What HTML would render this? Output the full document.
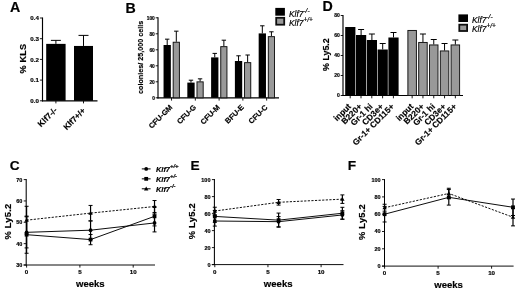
<!DOCTYPE html>
<html><head><meta charset="utf-8"><title>Figure</title>
<style>
html,body{margin:0;padding:0;background:#fff;}
body{width:520px;height:290px;overflow:hidden;font-family:"Liberation Sans",sans-serif;}
svg{display:block;}
svg text{font-family:"Liberation Sans",sans-serif;fill:#000;stroke:#000;stroke-width:0.18px;}
</style></head><body>
<svg width="520" height="290" viewBox="0 0 520 290">
<rect x="0" y="0" width="520" height="290" fill="#fff"/>
<defs><filter id="b" x="-5%" y="-5%" width="110%" height="110%"><feGaussianBlur stdDeviation="0.28"/></filter></defs><g filter="url(#b)">
<text x="9.90" y="12.40" font-size="14.2" font-weight="bold" font-style="normal" text-anchor="start" >A</text>
<text x="125.60" y="12.60" font-size="14.2" font-weight="bold" font-style="normal" text-anchor="start" >B</text>
<text x="322.50" y="11.20" font-size="14.2" font-weight="bold" font-style="normal" text-anchor="start" >D</text>
<text x="9.70" y="170.30" font-size="13.7" font-weight="bold" font-style="normal" text-anchor="start" >C</text>
<text x="190.60" y="170.30" font-size="13.7" font-weight="bold" font-style="normal" text-anchor="start" >E</text>
<text x="347.70" y="170.20" font-size="13.7" font-weight="bold" font-style="normal" text-anchor="start" >F</text>
<line x1="42.50" y1="17.50" x2="42.50" y2="101.40" stroke="#000" stroke-width="1.15" />
<line x1="41.90" y1="100.80" x2="97.50" y2="100.80" stroke="#000" stroke-width="1.15" />
<line x1="39.90" y1="100.80" x2="42.50" y2="100.80" stroke="#000" stroke-width="0.9" />
<text x="38.90" y="103.00" font-size="6.2" font-weight="bold" font-style="normal" text-anchor="end" >0.0</text>
<line x1="39.90" y1="80.10" x2="42.50" y2="80.10" stroke="#000" stroke-width="0.9" />
<text x="38.90" y="82.30" font-size="6.2" font-weight="bold" font-style="normal" text-anchor="end" >0.1</text>
<line x1="39.90" y1="59.40" x2="42.50" y2="59.40" stroke="#000" stroke-width="0.9" />
<text x="38.90" y="61.60" font-size="6.2" font-weight="bold" font-style="normal" text-anchor="end" >0.2</text>
<line x1="39.90" y1="38.70" x2="42.50" y2="38.70" stroke="#000" stroke-width="0.9" />
<text x="38.90" y="40.90" font-size="6.2" font-weight="bold" font-style="normal" text-anchor="end" >0.3</text>
<line x1="39.90" y1="18.00" x2="42.50" y2="18.00" stroke="#000" stroke-width="0.9" />
<text x="38.90" y="20.20" font-size="6.2" font-weight="bold" font-style="normal" text-anchor="end" >0.4</text>
<rect x="46.20" y="43.88" width="19.40" height="56.92" fill="#000"/>
<line x1="55.90" y1="40.36" x2="55.90" y2="43.88" stroke="#000" stroke-width="1" />
<line x1="50.90" y1="40.36" x2="60.90" y2="40.36" stroke="#000" stroke-width="1" />
<rect x="74.00" y="45.95" width="19.00" height="54.85" fill="#000"/>
<line x1="83.50" y1="35.39" x2="83.50" y2="45.95" stroke="#000" stroke-width="1" />
<line x1="78.50" y1="35.39" x2="88.50" y2="35.39" stroke="#000" stroke-width="1" />
<text x="25.70" y="58.50" font-size="9.1" font-weight="bold" font-style="normal" text-anchor="middle" transform="rotate(-90 25.70 58.50)" letter-spacing="0.2">% KLS</text>
<text x="57.70" y="110.80" font-size="8.3" font-weight="bold" font-style="normal" text-anchor="end" transform="rotate(-45 57.70 110.80)" >Klf7-/-</text>
<text x="86.00" y="111.20" font-size="8.2" font-weight="bold" font-style="normal" text-anchor="end" transform="rotate(-45 86.00 111.20)" >Klf7+/+</text>
<line x1="55.90" y1="100.80" x2="55.90" y2="103.40" stroke="#000" stroke-width="0.9" />
<line x1="83.50" y1="100.80" x2="83.50" y2="103.40" stroke="#000" stroke-width="0.9" />
<line x1="158.00" y1="17.30" x2="158.00" y2="98.40" stroke="#000" stroke-width="1.15" />
<line x1="157.40" y1="97.80" x2="279.00" y2="97.80" stroke="#000" stroke-width="1.15" />
<line x1="155.70" y1="97.80" x2="158.00" y2="97.80" stroke="#000" stroke-width="0.9" />
<text x="154.80" y="99.50" font-size="4.8" font-weight="bold" font-style="normal" text-anchor="end" stroke-width="0.3">0</text>
<line x1="155.70" y1="81.80" x2="158.00" y2="81.80" stroke="#000" stroke-width="0.9" />
<text x="154.80" y="83.50" font-size="4.8" font-weight="bold" font-style="normal" text-anchor="end" stroke-width="0.3">20</text>
<line x1="155.70" y1="65.80" x2="158.00" y2="65.80" stroke="#000" stroke-width="0.9" />
<text x="154.80" y="67.50" font-size="4.8" font-weight="bold" font-style="normal" text-anchor="end" stroke-width="0.3">40</text>
<line x1="155.70" y1="49.80" x2="158.00" y2="49.80" stroke="#000" stroke-width="0.9" />
<text x="154.80" y="51.50" font-size="4.8" font-weight="bold" font-style="normal" text-anchor="end" stroke-width="0.3">60</text>
<line x1="155.70" y1="33.80" x2="158.00" y2="33.80" stroke="#000" stroke-width="0.9" />
<text x="154.80" y="35.50" font-size="4.8" font-weight="bold" font-style="normal" text-anchor="end" stroke-width="0.3">80</text>
<line x1="155.70" y1="17.80" x2="158.00" y2="17.80" stroke="#000" stroke-width="0.9" />
<text x="154.80" y="19.50" font-size="4.8" font-weight="bold" font-style="normal" text-anchor="end" stroke-width="0.3">100</text>
<rect x="163.55" y="45.00" width="7.30" height="52.80" fill="#000"/>
<line x1="167.20" y1="39.16" x2="167.20" y2="45.00" stroke="#000" stroke-width="1" />
<line x1="165.00" y1="39.16" x2="169.40" y2="39.16" stroke="#000" stroke-width="1" />
<rect x="173.20" y="42.25" width="6.20" height="55.55" fill="#999" stroke="#111" stroke-width="0.95"/>
<line x1="176.30" y1="31.16" x2="176.30" y2="41.80" stroke="#000" stroke-width="1" />
<line x1="174.10" y1="31.16" x2="178.50" y2="31.16" stroke="#000" stroke-width="1" />
<line x1="171.55" y1="97.80" x2="171.55" y2="100.60" stroke="#000" stroke-width="0.9" />
<text x="172.95" y="107.80" font-size="7.5" font-weight="bold" font-style="normal" text-anchor="end" transform="rotate(-45 172.95 107.80)" >CFU-GM</text>
<rect x="187.33" y="82.60" width="7.30" height="15.20" fill="#000"/>
<line x1="190.98" y1="80.20" x2="190.98" y2="82.60" stroke="#000" stroke-width="1" />
<line x1="188.78" y1="80.20" x2="193.18" y2="80.20" stroke="#000" stroke-width="1" />
<rect x="196.98" y="81.85" width="6.20" height="15.95" fill="#999" stroke="#111" stroke-width="0.95"/>
<line x1="200.08" y1="78.84" x2="200.08" y2="81.40" stroke="#000" stroke-width="1" />
<line x1="197.88" y1="78.84" x2="202.28" y2="78.84" stroke="#000" stroke-width="1" />
<line x1="195.33" y1="97.80" x2="195.33" y2="100.60" stroke="#000" stroke-width="0.9" />
<text x="196.73" y="107.80" font-size="7.5" font-weight="bold" font-style="normal" text-anchor="end" transform="rotate(-45 196.73 107.80)" >CFU-G</text>
<rect x="211.11" y="57.40" width="7.30" height="40.40" fill="#000"/>
<line x1="214.76" y1="53.40" x2="214.76" y2="57.40" stroke="#000" stroke-width="1" />
<line x1="212.56" y1="53.40" x2="216.96" y2="53.40" stroke="#000" stroke-width="1" />
<rect x="220.76" y="46.65" width="6.20" height="51.15" fill="#999" stroke="#111" stroke-width="0.95"/>
<line x1="223.86" y1="40.20" x2="223.86" y2="46.20" stroke="#000" stroke-width="1" />
<line x1="221.66" y1="40.20" x2="226.06" y2="40.20" stroke="#000" stroke-width="1" />
<line x1="219.11" y1="97.80" x2="219.11" y2="100.60" stroke="#000" stroke-width="0.9" />
<text x="220.51" y="107.80" font-size="7.5" font-weight="bold" font-style="normal" text-anchor="end" transform="rotate(-45 220.51 107.80)" >CFU-M</text>
<rect x="234.89" y="61.00" width="7.30" height="36.80" fill="#000"/>
<line x1="238.54" y1="55.80" x2="238.54" y2="61.00" stroke="#000" stroke-width="1" />
<line x1="236.34" y1="55.80" x2="240.74" y2="55.80" stroke="#000" stroke-width="1" />
<rect x="244.54" y="62.65" width="6.20" height="35.15" fill="#999" stroke="#111" stroke-width="0.95"/>
<line x1="247.64" y1="55.00" x2="247.64" y2="62.20" stroke="#000" stroke-width="1" />
<line x1="245.44" y1="55.00" x2="249.84" y2="55.00" stroke="#000" stroke-width="1" />
<line x1="242.89" y1="97.80" x2="242.89" y2="100.60" stroke="#000" stroke-width="0.9" />
<text x="244.29" y="107.80" font-size="7.5" font-weight="bold" font-style="normal" text-anchor="end" transform="rotate(-45 244.29 107.80)" >BFU-E</text>
<rect x="258.67" y="33.40" width="7.30" height="64.40" fill="#000"/>
<line x1="262.32" y1="25.80" x2="262.32" y2="33.40" stroke="#000" stroke-width="1" />
<line x1="260.12" y1="25.80" x2="264.52" y2="25.80" stroke="#000" stroke-width="1" />
<rect x="268.32" y="36.65" width="6.20" height="61.15" fill="#999" stroke="#111" stroke-width="0.95"/>
<line x1="271.42" y1="31.80" x2="271.42" y2="36.20" stroke="#000" stroke-width="1" />
<line x1="269.22" y1="31.80" x2="273.62" y2="31.80" stroke="#000" stroke-width="1" />
<line x1="266.67" y1="97.80" x2="266.67" y2="100.60" stroke="#000" stroke-width="0.9" />
<text x="268.07" y="107.80" font-size="7.5" font-weight="bold" font-style="normal" text-anchor="end" transform="rotate(-45 268.07 107.80)" >CFU-C</text>
<text x="143.40" y="57.40" font-size="7.2" font-weight="bold" font-style="normal" text-anchor="middle" transform="rotate(-90 143.40 57.40)" >colonies/ 25,000 cells</text>
<rect x="275.30" y="7.90" width="9.60" height="7.80" fill="#000"/>
<rect x="276.20" y="17.80" width="8.00" height="6.90" fill="#999" stroke="#111" stroke-width="1.8"/>
<text x="289.00" y="16.60" font-size="8.4" font-style="italic" font-weight="normal" letter-spacing="0">Klf7<tspan font-size="6.55" dy="-3.95">-/-</tspan></text>
<text x="289.00" y="26.00" font-size="8.4" font-style="italic" font-weight="normal" letter-spacing="0">Klf7<tspan font-size="6.55" dy="-3.95">+/+</tspan></text>
<line x1="343.00" y1="15.00" x2="343.00" y2="96.10" stroke="#000" stroke-width="1.15" />
<line x1="342.40" y1="95.50" x2="463.00" y2="95.50" stroke="#000" stroke-width="1.15" />
<line x1="340.70" y1="95.50" x2="343.00" y2="95.50" stroke="#000" stroke-width="0.9" />
<text x="339.80" y="97.30" font-size="5.0" font-weight="bold" font-style="normal" text-anchor="end" stroke-width="0.3">0</text>
<line x1="340.70" y1="75.50" x2="343.00" y2="75.50" stroke="#000" stroke-width="0.9" />
<text x="339.80" y="77.30" font-size="5.0" font-weight="bold" font-style="normal" text-anchor="end" stroke-width="0.3">20</text>
<line x1="340.70" y1="55.50" x2="343.00" y2="55.50" stroke="#000" stroke-width="0.9" />
<text x="339.80" y="57.30" font-size="5.0" font-weight="bold" font-style="normal" text-anchor="end" stroke-width="0.3">40</text>
<line x1="340.70" y1="35.50" x2="343.00" y2="35.50" stroke="#000" stroke-width="0.9" />
<text x="339.80" y="37.30" font-size="5.0" font-weight="bold" font-style="normal" text-anchor="end" stroke-width="0.3">60</text>
<line x1="340.70" y1="15.50" x2="343.00" y2="15.50" stroke="#000" stroke-width="0.9" />
<text x="339.80" y="17.30" font-size="5.0" font-weight="bold" font-style="normal" text-anchor="end" stroke-width="0.3">80</text>
<rect x="345.20" y="27.00" width="10.20" height="68.50" fill="#000"/>
<line x1="350.20" y1="95.50" x2="350.20" y2="98.30" stroke="#000" stroke-width="0.9" />
<text x="351.60" y="107.10" font-size="8.4" font-weight="bold" font-style="normal" text-anchor="end" transform="rotate(-45 351.60 107.10)" >input</text>
<rect x="356.00" y="35.00" width="10.20" height="60.50" fill="#000"/>
<line x1="361.10" y1="29.50" x2="361.10" y2="35.00" stroke="#000" stroke-width="1" />
<line x1="358.10" y1="29.50" x2="364.10" y2="29.50" stroke="#000" stroke-width="1" />
<line x1="361.00" y1="95.50" x2="361.00" y2="98.30" stroke="#000" stroke-width="0.9" />
<text x="362.40" y="107.10" font-size="8.4" font-weight="bold" font-style="normal" text-anchor="end" transform="rotate(-45 362.40 107.10)" >B220+</text>
<rect x="366.80" y="40.00" width="10.20" height="55.50" fill="#000"/>
<line x1="371.90" y1="34.00" x2="371.90" y2="40.00" stroke="#000" stroke-width="1" />
<line x1="368.90" y1="34.00" x2="374.90" y2="34.00" stroke="#000" stroke-width="1" />
<line x1="371.80" y1="95.50" x2="371.80" y2="98.30" stroke="#000" stroke-width="0.9" />
<text x="373.20" y="107.10" font-size="8.4" font-weight="bold" font-style="normal" text-anchor="end" transform="rotate(-45 373.20 107.10)" >Gr-1 hi</text>
<rect x="377.60" y="49.50" width="10.20" height="46.00" fill="#000"/>
<line x1="382.70" y1="43.50" x2="382.70" y2="49.50" stroke="#000" stroke-width="1" />
<line x1="379.70" y1="43.50" x2="385.70" y2="43.50" stroke="#000" stroke-width="1" />
<line x1="382.60" y1="95.50" x2="382.60" y2="98.30" stroke="#000" stroke-width="0.9" />
<text x="384.00" y="107.10" font-size="8.4" font-weight="bold" font-style="normal" text-anchor="end" transform="rotate(-45 384.00 107.10)" >CD3e+</text>
<rect x="388.40" y="37.50" width="10.20" height="58.00" fill="#000"/>
<line x1="393.50" y1="32.50" x2="393.50" y2="37.50" stroke="#000" stroke-width="1" />
<line x1="390.50" y1="32.50" x2="396.50" y2="32.50" stroke="#000" stroke-width="1" />
<line x1="393.40" y1="95.50" x2="393.40" y2="98.30" stroke="#000" stroke-width="0.9" />
<text x="394.80" y="107.10" font-size="8.4" font-weight="bold" font-style="normal" text-anchor="end" transform="rotate(-45 394.80 107.10)" >Gr-1+ CD115+</text>
<rect x="407.90" y="30.45" width="8.50" height="65.05" fill="#999" stroke="#111" stroke-width="0.95"/>
<line x1="412.15" y1="95.50" x2="412.15" y2="98.30" stroke="#000" stroke-width="0.9" />
<text x="413.95" y="107.10" font-size="8.4" font-weight="bold" font-style="normal" text-anchor="end" transform="rotate(-45 413.95 107.10)" >input</text>
<rect x="418.70" y="42.45" width="8.50" height="53.05" fill="#999" stroke="#111" stroke-width="0.95"/>
<line x1="422.95" y1="34.00" x2="422.95" y2="42.00" stroke="#000" stroke-width="1" />
<line x1="419.95" y1="34.00" x2="425.95" y2="34.00" stroke="#000" stroke-width="1" />
<line x1="422.95" y1="95.50" x2="422.95" y2="98.30" stroke="#000" stroke-width="0.9" />
<text x="424.75" y="107.10" font-size="8.4" font-weight="bold" font-style="normal" text-anchor="end" transform="rotate(-45 424.75 107.10)" >B220+</text>
<rect x="429.50" y="44.95" width="8.50" height="50.55" fill="#999" stroke="#111" stroke-width="0.95"/>
<line x1="433.75" y1="39.50" x2="433.75" y2="44.50" stroke="#000" stroke-width="1" />
<line x1="430.75" y1="39.50" x2="436.75" y2="39.50" stroke="#000" stroke-width="1" />
<line x1="433.75" y1="95.50" x2="433.75" y2="98.30" stroke="#000" stroke-width="0.9" />
<text x="435.55" y="107.10" font-size="8.4" font-weight="bold" font-style="normal" text-anchor="end" transform="rotate(-45 435.55 107.10)" >Gr-1 hi</text>
<rect x="440.30" y="50.95" width="8.50" height="44.55" fill="#999" stroke="#111" stroke-width="0.95"/>
<line x1="444.55" y1="43.50" x2="444.55" y2="50.50" stroke="#000" stroke-width="1" />
<line x1="441.55" y1="43.50" x2="447.55" y2="43.50" stroke="#000" stroke-width="1" />
<line x1="444.55" y1="95.50" x2="444.55" y2="98.30" stroke="#000" stroke-width="0.9" />
<text x="446.35" y="107.10" font-size="8.4" font-weight="bold" font-style="normal" text-anchor="end" transform="rotate(-45 446.35 107.10)" >CD3e+</text>
<rect x="451.10" y="44.95" width="8.50" height="50.55" fill="#999" stroke="#111" stroke-width="0.95"/>
<line x1="455.35" y1="40.00" x2="455.35" y2="44.50" stroke="#000" stroke-width="1" />
<line x1="452.35" y1="40.00" x2="458.35" y2="40.00" stroke="#000" stroke-width="1" />
<line x1="455.35" y1="95.50" x2="455.35" y2="98.30" stroke="#000" stroke-width="0.9" />
<text x="457.15" y="107.10" font-size="8.4" font-weight="bold" font-style="normal" text-anchor="end" transform="rotate(-45 457.15 107.10)" >Gr-1+ CD115+</text>
<text x="329.20" y="54.60" font-size="8.9" font-weight="bold" font-style="normal" text-anchor="middle" transform="rotate(-90 329.20 54.60)" stroke-width="0.05">% Ly5.2</text>
<rect x="458.40" y="14.40" width="9.60" height="7.60" fill="#000"/>
<rect x="459.30" y="24.70" width="7.80" height="6.30" fill="#999" stroke="#111" stroke-width="1.8"/>
<text x="472.00" y="22.60" font-size="8.4" font-style="italic" font-weight="normal" letter-spacing="0">Klf7<tspan font-size="6.55" dy="-3.95">-/-</tspan></text>
<text x="472.00" y="32.00" font-size="8.4" font-style="italic" font-weight="normal" letter-spacing="0">Klf7<tspan font-size="6.55" dy="-3.95">+/+</tspan></text>
<line x1="26.20" y1="179.10" x2="26.20" y2="265.50" stroke="#000" stroke-width="1.05" />
<line x1="23.60" y1="265.00" x2="155.00" y2="265.00" stroke="#000" stroke-width="0.95" />
<line x1="23.70" y1="265.00" x2="26.20" y2="265.00" stroke="#000" stroke-width="0.9" />
<text x="22.30" y="266.95" font-size="5.5" font-weight="bold" font-style="normal" text-anchor="end" stroke-width="0.32">30</text>
<line x1="23.70" y1="243.65" x2="26.20" y2="243.65" stroke="#000" stroke-width="0.9" />
<text x="22.30" y="245.60" font-size="5.5" font-weight="bold" font-style="normal" text-anchor="end" stroke-width="0.32">40</text>
<line x1="23.70" y1="222.30" x2="26.20" y2="222.30" stroke="#000" stroke-width="0.9" />
<text x="22.30" y="224.25" font-size="5.5" font-weight="bold" font-style="normal" text-anchor="end" stroke-width="0.32">50</text>
<line x1="23.70" y1="200.95" x2="26.20" y2="200.95" stroke="#000" stroke-width="0.9" />
<text x="22.30" y="202.90" font-size="5.5" font-weight="bold" font-style="normal" text-anchor="end" stroke-width="0.32">60</text>
<line x1="23.70" y1="179.60" x2="26.20" y2="179.60" stroke="#000" stroke-width="0.9" />
<text x="22.30" y="181.55" font-size="5.5" font-weight="bold" font-style="normal" text-anchor="end" stroke-width="0.32">70</text>
<line x1="26.60" y1="265.00" x2="26.60" y2="267.60" stroke="#000" stroke-width="0.9" />
<text x="26.60" y="274.10" font-size="6.2" font-weight="bold" font-style="normal" text-anchor="middle" stroke-width="0.3">0</text>
<line x1="79.90" y1="265.00" x2="79.90" y2="267.60" stroke="#000" stroke-width="0.9" />
<text x="79.90" y="274.10" font-size="6.2" font-weight="bold" font-style="normal" text-anchor="middle" stroke-width="0.3">5</text>
<line x1="133.20" y1="265.00" x2="133.20" y2="267.60" stroke="#000" stroke-width="0.9" />
<text x="133.20" y="274.10" font-size="6.2" font-weight="bold" font-style="normal" text-anchor="middle" stroke-width="0.3">10</text>
<path d="M26.60 220.17 L90.56 213.12 L154.52 206.50" fill="none" stroke="#000" stroke-width="0.95" stroke-dasharray="2.2 1.4"/>
<line x1="26.60" y1="206.29" x2="26.60" y2="234.04" stroke="#000" stroke-width="1.2" />
<line x1="24.60" y1="206.29" x2="28.60" y2="206.29" stroke="#000" stroke-width="1" />
<line x1="24.60" y1="234.04" x2="28.60" y2="234.04" stroke="#000" stroke-width="1" />
<path d="M26.60 217.87 L28.80 221.77 L24.40 221.77 Z" fill="#000"/>
<line x1="90.56" y1="205.43" x2="90.56" y2="220.81" stroke="#000" stroke-width="1.2" />
<line x1="88.56" y1="205.43" x2="92.56" y2="205.43" stroke="#000" stroke-width="1" />
<line x1="88.56" y1="220.81" x2="92.56" y2="220.81" stroke="#000" stroke-width="1" />
<path d="M90.56 210.82 L92.76 214.72 L88.36 214.72 Z" fill="#000"/>
<line x1="154.52" y1="200.52" x2="154.52" y2="212.48" stroke="#000" stroke-width="1.2" />
<line x1="152.52" y1="200.52" x2="156.52" y2="200.52" stroke="#000" stroke-width="1" />
<line x1="152.52" y1="212.48" x2="156.52" y2="212.48" stroke="#000" stroke-width="1" />
<path d="M154.52 204.20 L156.72 208.10 L152.32 208.10 Z" fill="#000"/>
<path d="M26.60 232.33 L90.56 230.20 L154.52 222.94" fill="none" stroke="#000" stroke-width="0.95"/>
<line x1="26.60" y1="216.75" x2="26.60" y2="247.92" stroke="#000" stroke-width="1.2" />
<line x1="24.60" y1="216.75" x2="28.60" y2="216.75" stroke="#000" stroke-width="1" />
<line x1="24.60" y1="247.92" x2="28.60" y2="247.92" stroke="#000" stroke-width="1" />
<circle cx="26.60" cy="232.33" r="1.9" fill="#000"/>
<line x1="90.56" y1="221.02" x2="90.56" y2="239.38" stroke="#000" stroke-width="1.2" />
<line x1="88.56" y1="221.02" x2="92.56" y2="221.02" stroke="#000" stroke-width="1" />
<line x1="88.56" y1="239.38" x2="92.56" y2="239.38" stroke="#000" stroke-width="1" />
<circle cx="90.56" cy="230.20" r="1.9" fill="#000"/>
<line x1="154.52" y1="213.97" x2="154.52" y2="231.91" stroke="#000" stroke-width="1.2" />
<line x1="152.52" y1="213.97" x2="156.52" y2="213.97" stroke="#000" stroke-width="1" />
<line x1="152.52" y1="231.91" x2="156.52" y2="231.91" stroke="#000" stroke-width="1" />
<circle cx="154.52" cy="222.94" r="1.9" fill="#000"/>
<path d="M26.60 234.68 L90.56 239.59 L154.52 216.32" fill="none" stroke="#000" stroke-width="0.95"/>
<line x1="26.60" y1="216.11" x2="26.60" y2="253.26" stroke="#000" stroke-width="1.2" />
<line x1="24.60" y1="216.11" x2="28.60" y2="216.11" stroke="#000" stroke-width="1" />
<line x1="24.60" y1="253.26" x2="28.60" y2="253.26" stroke="#000" stroke-width="1" />
<rect x="24.70" y="232.78" width="3.80" height="3.80" fill="#000"/>
<line x1="90.56" y1="234.47" x2="90.56" y2="244.72" stroke="#000" stroke-width="1.2" />
<line x1="88.56" y1="234.47" x2="92.56" y2="234.47" stroke="#000" stroke-width="1" />
<line x1="88.56" y1="244.72" x2="92.56" y2="244.72" stroke="#000" stroke-width="1" />
<rect x="88.66" y="237.69" width="3.80" height="3.80" fill="#000"/>
<line x1="154.52" y1="206.71" x2="154.52" y2="225.93" stroke="#000" stroke-width="1.2" />
<line x1="152.52" y1="206.71" x2="156.52" y2="206.71" stroke="#000" stroke-width="1" />
<line x1="152.52" y1="225.93" x2="156.52" y2="225.93" stroke="#000" stroke-width="1" />
<rect x="152.62" y="214.42" width="3.80" height="3.80" fill="#000"/>
<text x="90.30" y="286.80" font-size="9.55" font-weight="bold" font-style="normal" text-anchor="middle" >weeks</text>
<text x="10.80" y="221.60" font-size="9.3" font-weight="bold" font-style="normal" text-anchor="middle" transform="rotate(-90 10.80 221.60)" letter-spacing="0.25" stroke-width="0.05">% Ly5.2</text>
<line x1="141.80" y1="168.90" x2="150.60" y2="168.90" stroke="#000" stroke-width="1" />
<circle cx="146.20" cy="168.90" r="1.9" fill="#000"/>
<text x="156.00" y="171.90" font-size="7.4" font-style="italic" font-weight="bold" letter-spacing="0">Klf7<tspan font-size="5.92" dy="-3.48">+/+</tspan></text>
<line x1="141.80" y1="178.85" x2="150.60" y2="178.85" stroke="#000" stroke-width="1" />
<rect x="144.30" y="176.95" width="3.80" height="3.80" fill="#000"/>
<text x="156.00" y="181.85" font-size="7.4" font-style="italic" font-weight="bold" letter-spacing="0">Klf7<tspan font-size="5.92" dy="-3.48">+/-</tspan></text>
<line x1="141.80" y1="188.80" x2="150.60" y2="188.80" stroke="#000" stroke-width="1" />
<path d="M146.20 186.50 L148.40 190.40 L144.00 190.40 Z" fill="#000"/>
<text x="156.00" y="191.80" font-size="7.4" font-style="italic" font-weight="bold" letter-spacing="0">Klf7<tspan font-size="5.92" dy="-3.48">-/-</tspan></text>
<line x1="214.40" y1="179.10" x2="214.40" y2="265.10" stroke="#000" stroke-width="1.05" />
<line x1="211.80" y1="264.60" x2="343.50" y2="264.60" stroke="#000" stroke-width="0.95" />
<line x1="211.90" y1="264.60" x2="214.40" y2="264.60" stroke="#000" stroke-width="0.9" />
<text x="210.50" y="266.55" font-size="5.5" font-weight="bold" font-style="normal" text-anchor="end" stroke-width="0.32">0</text>
<line x1="211.90" y1="247.60" x2="214.40" y2="247.60" stroke="#000" stroke-width="0.9" />
<text x="210.50" y="249.55" font-size="5.5" font-weight="bold" font-style="normal" text-anchor="end" stroke-width="0.32">20</text>
<line x1="211.90" y1="230.60" x2="214.40" y2="230.60" stroke="#000" stroke-width="0.9" />
<text x="210.50" y="232.55" font-size="5.5" font-weight="bold" font-style="normal" text-anchor="end" stroke-width="0.32">40</text>
<line x1="211.90" y1="213.60" x2="214.40" y2="213.60" stroke="#000" stroke-width="0.9" />
<text x="210.50" y="215.55" font-size="5.5" font-weight="bold" font-style="normal" text-anchor="end" stroke-width="0.32">60</text>
<line x1="211.90" y1="196.60" x2="214.40" y2="196.60" stroke="#000" stroke-width="0.9" />
<text x="210.50" y="198.55" font-size="5.5" font-weight="bold" font-style="normal" text-anchor="end" stroke-width="0.32">80</text>
<line x1="211.90" y1="179.60" x2="214.40" y2="179.60" stroke="#000" stroke-width="0.9" />
<text x="210.50" y="181.55" font-size="5.5" font-weight="bold" font-style="normal" text-anchor="end" stroke-width="0.32">100</text>
<line x1="214.80" y1="264.60" x2="214.80" y2="267.20" stroke="#000" stroke-width="0.9" />
<text x="214.80" y="273.70" font-size="6.2" font-weight="bold" font-style="normal" text-anchor="middle" stroke-width="0.3">0</text>
<line x1="267.95" y1="264.60" x2="267.95" y2="267.20" stroke="#000" stroke-width="0.9" />
<text x="267.95" y="273.70" font-size="6.2" font-weight="bold" font-style="normal" text-anchor="middle" stroke-width="0.3">5</text>
<line x1="321.10" y1="264.60" x2="321.10" y2="267.20" stroke="#000" stroke-width="0.9" />
<text x="321.10" y="273.70" font-size="6.2" font-weight="bold" font-style="normal" text-anchor="middle" stroke-width="0.3">10</text>
<path d="M214.80 211.05 L278.58 202.30 L342.36 199.15" fill="none" stroke="#000" stroke-width="0.95" stroke-dasharray="2.2 1.4"/>
<line x1="214.80" y1="207.23" x2="214.80" y2="214.88" stroke="#000" stroke-width="1.2" />
<line x1="212.80" y1="207.23" x2="216.80" y2="207.23" stroke="#000" stroke-width="1" />
<line x1="212.80" y1="214.88" x2="216.80" y2="214.88" stroke="#000" stroke-width="1" />
<path d="M214.80 208.75 L217.00 212.65 L212.60 212.65 Z" fill="#000"/>
<line x1="278.58" y1="199.49" x2="278.58" y2="205.10" stroke="#000" stroke-width="1.2" />
<line x1="276.58" y1="199.49" x2="280.58" y2="199.49" stroke="#000" stroke-width="1" />
<line x1="276.58" y1="205.10" x2="280.58" y2="205.10" stroke="#000" stroke-width="1" />
<path d="M278.58 200.00 L280.78 203.90 L276.38 203.90 Z" fill="#000"/>
<line x1="342.36" y1="194.90" x2="342.36" y2="203.40" stroke="#000" stroke-width="1.2" />
<line x1="340.36" y1="194.90" x2="344.36" y2="194.90" stroke="#000" stroke-width="1" />
<line x1="340.36" y1="203.40" x2="344.36" y2="203.40" stroke="#000" stroke-width="1" />
<path d="M342.36 196.85 L344.56 200.75 L340.16 200.75 Z" fill="#000"/>
<path d="M214.80 216.41 L278.58 220.15 L342.36 213.26" fill="none" stroke="#000" stroke-width="0.95"/>
<line x1="214.80" y1="210.46" x2="214.80" y2="222.36" stroke="#000" stroke-width="1.2" />
<line x1="212.80" y1="210.46" x2="216.80" y2="210.46" stroke="#000" stroke-width="1" />
<line x1="212.80" y1="222.36" x2="216.80" y2="222.36" stroke="#000" stroke-width="1" />
<rect x="212.90" y="214.51" width="3.80" height="3.80" fill="#000"/>
<line x1="278.58" y1="213.09" x2="278.58" y2="227.20" stroke="#000" stroke-width="1.2" />
<line x1="276.58" y1="213.09" x2="280.58" y2="213.09" stroke="#000" stroke-width="1" />
<line x1="276.58" y1="227.20" x2="280.58" y2="227.20" stroke="#000" stroke-width="1" />
<rect x="276.68" y="218.25" width="3.80" height="3.80" fill="#000"/>
<line x1="342.36" y1="207.31" x2="342.36" y2="219.21" stroke="#000" stroke-width="1.2" />
<line x1="340.36" y1="207.31" x2="344.36" y2="207.31" stroke="#000" stroke-width="1" />
<line x1="340.36" y1="219.21" x2="344.36" y2="219.21" stroke="#000" stroke-width="1" />
<rect x="340.46" y="211.36" width="3.80" height="3.80" fill="#000"/>
<path d="M214.80 221.00 L278.58 221.68 L342.36 214.96" fill="none" stroke="#000" stroke-width="0.95"/>
<line x1="214.80" y1="215.90" x2="214.80" y2="226.10" stroke="#000" stroke-width="1.2" />
<line x1="212.80" y1="215.90" x2="216.80" y2="215.90" stroke="#000" stroke-width="1" />
<line x1="212.80" y1="226.10" x2="216.80" y2="226.10" stroke="#000" stroke-width="1" />
<circle cx="214.80" cy="221.00" r="1.9" fill="#000"/>
<line x1="278.58" y1="216.58" x2="278.58" y2="226.78" stroke="#000" stroke-width="1.2" />
<line x1="276.58" y1="216.58" x2="280.58" y2="216.58" stroke="#000" stroke-width="1" />
<line x1="276.58" y1="226.78" x2="280.58" y2="226.78" stroke="#000" stroke-width="1" />
<circle cx="278.58" cy="221.68" r="1.9" fill="#000"/>
<line x1="342.36" y1="210.71" x2="342.36" y2="219.21" stroke="#000" stroke-width="1.2" />
<line x1="340.36" y1="210.71" x2="344.36" y2="210.71" stroke="#000" stroke-width="1" />
<line x1="340.36" y1="219.21" x2="344.36" y2="219.21" stroke="#000" stroke-width="1" />
<circle cx="342.36" cy="214.96" r="1.9" fill="#000"/>
<text x="278.20" y="287.10" font-size="9.55" font-weight="bold" font-style="normal" text-anchor="middle" >weeks</text>
<text x="194.90" y="221.20" font-size="9.3" font-weight="bold" font-style="normal" text-anchor="middle" transform="rotate(-90 194.90 221.20)" letter-spacing="0.25" stroke-width="0.05">% Ly5.2</text>
<line x1="384.50" y1="179.10" x2="384.50" y2="266.60" stroke="#000" stroke-width="1.05" />
<line x1="381.90" y1="266.10" x2="513.60" y2="266.10" stroke="#000" stroke-width="0.95" />
<line x1="382.00" y1="266.10" x2="384.50" y2="266.10" stroke="#000" stroke-width="0.9" />
<text x="380.60" y="268.05" font-size="5.5" font-weight="bold" font-style="normal" text-anchor="end" stroke-width="0.32">0</text>
<line x1="382.00" y1="248.80" x2="384.50" y2="248.80" stroke="#000" stroke-width="0.9" />
<text x="380.60" y="250.75" font-size="5.5" font-weight="bold" font-style="normal" text-anchor="end" stroke-width="0.32">20</text>
<line x1="382.00" y1="231.50" x2="384.50" y2="231.50" stroke="#000" stroke-width="0.9" />
<text x="380.60" y="233.45" font-size="5.5" font-weight="bold" font-style="normal" text-anchor="end" stroke-width="0.32">40</text>
<line x1="382.00" y1="214.20" x2="384.50" y2="214.20" stroke="#000" stroke-width="0.9" />
<text x="380.60" y="216.15" font-size="5.5" font-weight="bold" font-style="normal" text-anchor="end" stroke-width="0.32">60</text>
<line x1="382.00" y1="196.90" x2="384.50" y2="196.90" stroke="#000" stroke-width="0.9" />
<text x="380.60" y="198.85" font-size="5.5" font-weight="bold" font-style="normal" text-anchor="end" stroke-width="0.32">80</text>
<line x1="382.00" y1="179.60" x2="384.50" y2="179.60" stroke="#000" stroke-width="0.9" />
<text x="380.60" y="181.55" font-size="5.5" font-weight="bold" font-style="normal" text-anchor="end" stroke-width="0.32">100</text>
<line x1="384.60" y1="266.10" x2="384.60" y2="268.70" stroke="#000" stroke-width="0.9" />
<text x="384.60" y="275.20" font-size="6.2" font-weight="bold" font-style="normal" text-anchor="middle" stroke-width="0.3">0</text>
<line x1="438.10" y1="266.10" x2="438.10" y2="268.70" stroke="#000" stroke-width="0.9" />
<text x="438.10" y="275.20" font-size="6.2" font-weight="bold" font-style="normal" text-anchor="middle" stroke-width="0.3">5</text>
<line x1="491.60" y1="266.10" x2="491.60" y2="268.70" stroke="#000" stroke-width="0.9" />
<text x="491.60" y="275.20" font-size="6.2" font-weight="bold" font-style="normal" text-anchor="middle" stroke-width="0.3">10</text>
<path d="M384.60 207.71 L448.80 193.44 L513.00 217.23" fill="none" stroke="#000" stroke-width="0.95" stroke-dasharray="2.2 1.4"/>
<line x1="384.60" y1="204.25" x2="384.60" y2="211.17" stroke="#000" stroke-width="1.2" />
<line x1="382.60" y1="204.25" x2="386.60" y2="204.25" stroke="#000" stroke-width="1" />
<line x1="382.60" y1="211.17" x2="386.60" y2="211.17" stroke="#000" stroke-width="1" />
<path d="M384.60 205.41 L386.80 209.31 L382.40 209.31 Z" fill="#000"/>
<line x1="448.80" y1="188.25" x2="448.80" y2="198.63" stroke="#000" stroke-width="1.2" />
<line x1="446.80" y1="188.25" x2="450.80" y2="188.25" stroke="#000" stroke-width="1" />
<line x1="446.80" y1="198.63" x2="450.80" y2="198.63" stroke="#000" stroke-width="1" />
<path d="M448.80 191.14 L451.00 195.04 L446.60 195.04 Z" fill="#000"/>
<line x1="513.00" y1="208.58" x2="513.00" y2="225.88" stroke="#000" stroke-width="1.2" />
<line x1="511.00" y1="208.58" x2="515.00" y2="208.58" stroke="#000" stroke-width="1" />
<line x1="511.00" y1="225.88" x2="515.00" y2="225.88" stroke="#000" stroke-width="1" />
<path d="M513.00 214.93 L515.20 218.83 L510.80 218.83 Z" fill="#000"/>
<path d="M384.60 214.20 L448.80 197.33 L513.00 207.28" fill="none" stroke="#000" stroke-width="0.95"/>
<line x1="384.60" y1="206.42" x2="384.60" y2="221.99" stroke="#000" stroke-width="1.2" />
<line x1="382.60" y1="206.42" x2="386.60" y2="206.42" stroke="#000" stroke-width="1" />
<line x1="382.60" y1="221.99" x2="386.60" y2="221.99" stroke="#000" stroke-width="1" />
<rect x="382.70" y="212.30" width="3.80" height="3.80" fill="#000"/>
<line x1="448.80" y1="189.55" x2="448.80" y2="205.12" stroke="#000" stroke-width="1.2" />
<line x1="446.80" y1="189.55" x2="450.80" y2="189.55" stroke="#000" stroke-width="1" />
<line x1="446.80" y1="205.12" x2="450.80" y2="205.12" stroke="#000" stroke-width="1" />
<rect x="446.90" y="195.43" width="3.80" height="3.80" fill="#000"/>
<line x1="513.00" y1="199.06" x2="513.00" y2="215.50" stroke="#000" stroke-width="1.2" />
<line x1="511.00" y1="199.06" x2="515.00" y2="199.06" stroke="#000" stroke-width="1" />
<line x1="511.00" y1="215.50" x2="515.00" y2="215.50" stroke="#000" stroke-width="1" />
<rect x="511.10" y="205.38" width="3.80" height="3.80" fill="#000"/>
<text x="448.60" y="287.60" font-size="9.55" font-weight="bold" font-style="normal" text-anchor="middle" >weeks</text>
<text x="364.80" y="222.00" font-size="9.3" font-weight="bold" font-style="normal" text-anchor="middle" transform="rotate(-90 364.80 222.00)" letter-spacing="0.25" stroke-width="0.05">% Ly5.2</text>
</g>
</svg>
</body></html>
